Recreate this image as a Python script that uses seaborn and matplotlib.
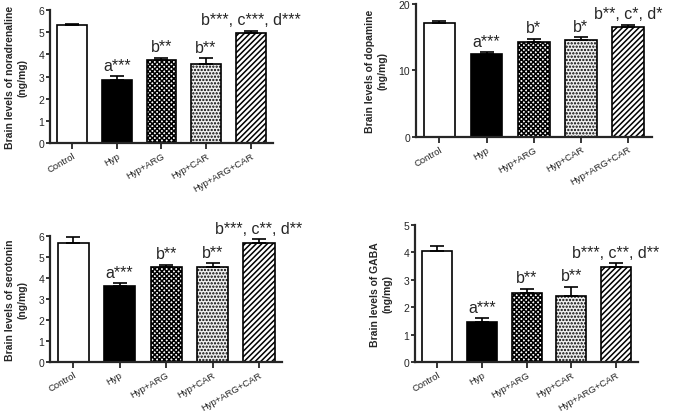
import numpy as np
import pandas as pd
import seaborn as sns
import matplotlib.pyplot as plt

groups = ["Control", "Hyp", "Hyp+ARG", "Hyp+CAR", "Hyp+ARG+CAR"]

noradrenaline = [5.33, 2.87, 3.75, 3.57, 4.97]
noradrenaline_err = [0.05, 0.15, 0.10, 0.26, 0.10]
noradrenaline_sig = ["", "a***", "b**", "b**", "b***, c***, d***"]

dopamine = [17.2, 12.4, 14.3, 14.6, 16.6]
dopamine_err = [0.3, 0.35, 0.5, 0.4, 0.3]
dopamine_sig = ["", "a***", "b*", "b*", "b**, c*, d*"]

serotonin = [5.65, 3.62, 4.50, 4.52, 5.65]
serotonin_err = [0.28, 0.12, 0.13, 0.20, 0.20]
serotonin_sig = ["", "a***", "b**", "b**", "b***, c**, d**"]

gaba = [4.05, 1.47, 2.50, 2.42, 3.45]
gaba_err = [0.17, 0.12, 0.17, 0.32, 0.15]
gaba_sig = ["", "a***", "b**", "b**", "b***, c**, d**"]

sns.set_style("ticks")
plt.rcParams['font.family'] = ['Liberation Sans', 'DejaVu Sans']
plt.rcParams['hatch.linewidth'] = 1.1


def draw_panel(ax, values, errs, sigs, ylabel, ymax, yticks):
    df = pd.DataFrame({"group": groups, "value": values})
    sns.barplot(data=df, x="group", y="value", ax=ax, color="white",
                errorbar=None, width=0.67, edgecolor="black", linewidth=1.2)
    styles = [("white", ""), ("black", ""), ("white", "xxxxxxx"),
              ("#f0f0f0", "....."), ("white", "//////")]
    for patch, (fc, h) in zip(ax.patches, styles):
        patch.set_facecolor(fc)
        patch.set_hatch(h)
        patch.set_edgecolor("black")
    x = np.arange(len(values))
    ax.errorbar(x, values, yerr=[np.zeros(len(errs)), errs], fmt="none",
                ecolor="black", elinewidth=1.2, capsize=5, capthick=1.2)
    for xi, v, e, s in zip(x, values, errs, sigs):
        if s:
            ax.text(xi, v + e + ymax * 0.025, s, ha="center", va="bottom",
                    fontsize=11.5)
    ax.set_xlim(-0.5, 4.5)
    ax.set_ylim(0, ymax)
    ax.set_yticks(yticks)
    ax.set_xlabel("")
    ax.set_ylabel(ylabel, fontsize=7.5, fontweight="bold", labelpad=8,
                  linespacing=1.3)
    ax.set_xticks(x)
    ax.set_xticklabels(groups, rotation=30, ha="right", rotation_mode="anchor",
                       fontsize=6.8)
    ax.tick_params(axis="y", labelsize=7.5, width=1.3, length=3, pad=1)
    ax.tick_params(axis="x", width=1.3, length=4, pad=1.5)
    for sp in ["left", "bottom"]:
        ax.spines[sp].set_linewidth(1.6)
    sns.despine(ax=ax)


fig = plt.figure(figsize=(6.85, 4.14), dpi=100)
ax1 = fig.add_axes([0.073, 0.652, 0.3255, 0.321])
ax2 = fig.add_axes([0.607, 0.667, 0.3445, 0.321])
ax3 = fig.add_axes([0.073, 0.123, 0.339, 0.305])
ax4 = fig.add_axes([0.606, 0.123, 0.3255, 0.332])

draw_panel(ax1, noradrenaline, noradrenaline_err, noradrenaline_sig,
           "Brain levels of noradrenaline\n(ng/mg)", 6, range(0, 7))
draw_panel(ax2, dopamine, dopamine_err, dopamine_sig,
           "Brain levels of dopamine\n(ng/mg)", 20, [0, 10, 20])
draw_panel(ax3, serotonin, serotonin_err, serotonin_sig,
           "Brain levels of serotonin\n(ng/mg)", 6, range(0, 7))
draw_panel(ax4, gaba, gaba_err, gaba_sig,
           "Brain levels of GABA\n(ng/mg)", 5, range(0, 6))

fig.savefig("out.png", dpi=100)
